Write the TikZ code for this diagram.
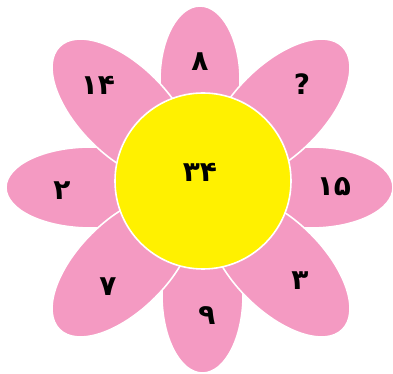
\documentclass[tikz,border=0pt]{standalone}
\usepackage{fontspec}
\newfontfamily\fa[Script=Arabic]{DejaVu Sans}
\definecolor{petalpink}{HTML}{F49AC2}
\definecolor{heartyellow}{HTML}{FFF100}
\begin{document}
\begin{tikzpicture}[x=1pt,y=1pt,
  petal/.style={fill=petalpink,draw=white,line width=1.6pt},
  heart/.style={fill=heartyellow,draw=white,line width=1.6pt},
  num/.style={font=\fa\bfseries\fontsize{28}{28}\selectfont,text=black,inner sep=0pt}]
\useasboundingbox (0,0) rectangle (393,374);
% cardinal petals
\draw[petal] (311,186.5) ellipse (82 and 40.5);
\draw[petal] (91,186.5) ellipse (85 and 40.5);
\draw[petal] (200,294) ellipse (40 and 74);
\draw[petal] (202.5,79) ellipse (40.5 and 78);
% diagonal petals
\draw[petal,rotate around={45:(278.8,263.8)}] (278.8,263.8) ellipse (90 and 45);
\draw[petal,rotate around={135:(123.2,263.8)}] (123.2,263.8) ellipse (90 and 45);
\draw[petal,rotate around={45:(123.2,108.2)}] (123.2,108.2) ellipse (90 and 45);
\draw[petal,rotate around={135:(278.8,108.2)}] (278.8,108.2) ellipse (90 and 45);
% centre
\draw[heart] (203,193) circle (88);
% labels
\node[num] (n8) at (200,312) {۸};
\node[num] (nq) at (302,290) {?};
\node[num] (n15) at (334,187) {۱۵};
\node[num] (n3) at (300,93) {۳};
\node[num] (n9) at (207,58) {۹};
\node[num] (n7) at (108,87) {۷};
\node[num] (n2) at (62,183) {۲};
\node[num] (n14) at (98,289) {۱۴};
\node[num] (n34) at (200,202) {۳۴};
\end{tikzpicture}
\end{document}
